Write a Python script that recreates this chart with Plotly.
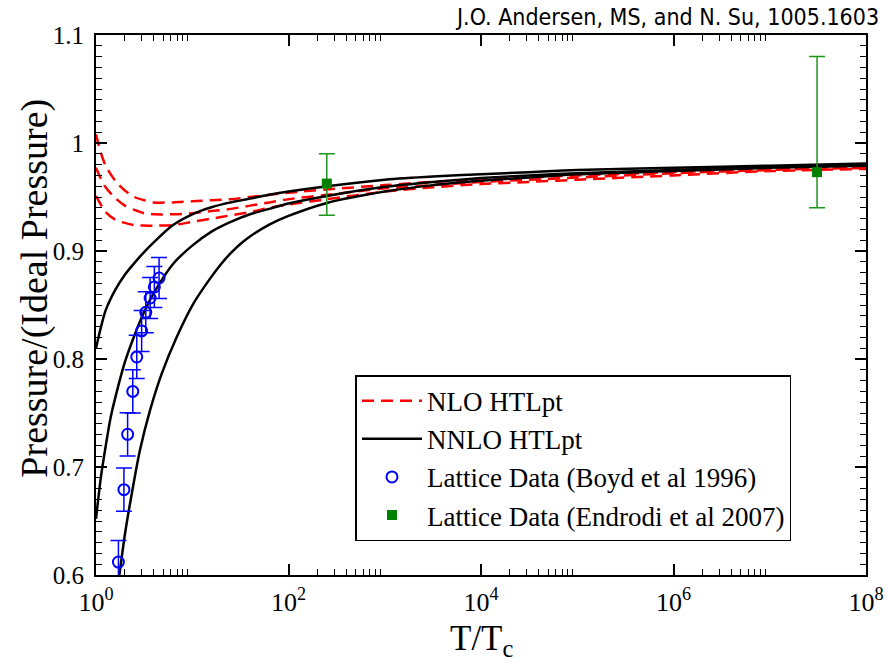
import plotly.graph_objects as go

# ---------------- data ----------------
# common T/Tc grid for the HTLpt bands
T_grid = [1.0, 1.122, 1.259, 1.585, 1.995, 2.512, 3.162, 3.981, 6.31, 10.0, 15.85,
          25.12, 39.81, 63.1, 100.0, 251.2, 1000.0, 3162.0, 1.0e4, 3.162e4, 1.0e5,
          1.0e6, 1.0e7, 1.0e8]

nlo_upper = [1.008, 0.991, 0.979, 0.965, 0.956, 0.950, 0.947, 0.945, 0.945, 0.946, 0.947,
             0.948, 0.950, 0.952, 0.954, 0.957, 0.961, 0.964, 0.966, 0.968, 0.970,
             0.973, 0.976, 0.978]
nlo_mid = [0.977, 0.967, 0.959, 0.949, 0.942, 0.938, 0.935, 0.934, 0.934, 0.935, 0.937,
           0.939, 0.942, 0.945, 0.948, 0.952, 0.958, 0.961, 0.964, 0.966, 0.968,
           0.972, 0.975, 0.977]
nlo_lower = [0.951, 0.943, 0.936, 0.929, 0.926, 0.924, 0.9235, 0.9235, 0.924, 0.927, 0.930,
             0.933, 0.936, 0.940, 0.943, 0.948, 0.955, 0.959, 0.962, 0.964, 0.966,
             0.970, 0.974, 0.976]

nnlo_upper = [0.810, 0.829, 0.845, 0.864, 0.878, 0.889, 0.899, 0.908, 0.924, 0.934, 0.9405,
              0.945, 0.9485, 0.952, 0.955, 0.960, 0.966, 0.969, 0.971, 0.973, 0.975,
              0.977, 0.979, 0.981]

T_nnlo_mid = [1.0, 1.122, 1.259, 1.413, 1.585, 1.995, 2.512, 3.162, 3.981, 6.31, 10.0,
              15.85, 25.12, 39.81, 63.1, 100.0, 251.2, 1000.0, 3162.0, 1.0e4, 3.162e4,
              1.0e5, 1.0e6, 1.0e7, 1.0e8]
nnlo_mid = [0.652, 0.690, 0.719, 0.745, 0.764, 0.797, 0.822, 0.8435, 0.861, 0.888, 0.905,
            0.918, 0.927, 0.934, 0.939, 0.944, 0.951, 0.9595, 0.964, 0.9675, 0.970,
            0.972, 0.975, 0.978, 0.980]

T_nnlo_low = [1.66, 1.75, 2.0, 2.35, 2.86, 3.64, 4.82, 6.9, 10.28, 15.31, 19.95, 25.12,
              31.62, 39.81, 63.1, 100.0, 251.2, 1000.0, 3162.0, 1.0e4, 3.162e4, 1.0e5,
              1.0e6, 1.0e7, 1.0e8]
nnlo_lower = [0.585, 0.600, 0.638, 0.675, 0.7155, 0.7525, 0.7865, 0.8204, 0.8513, 0.8744,
              0.888, 0.898, 0.9065, 0.9135, 0.9245, 0.9325, 0.9445, 0.955, 0.961, 0.965,
              0.968, 0.971, 0.974, 0.977, 0.979]

# Lattice data, Boyd et al 1996
boyd_T = [1.71, 1.95, 2.13, 2.41, 2.65, 2.98, 3.29, 3.65, 4.04, 4.52]
boyd_P = [0.612, 0.679, 0.7303, 0.770, 0.8019, 0.826, 0.8432, 0.8565, 0.8667, 0.875]
boyd_err = [0.020, 0.020, 0.020, 0.020, 0.020, 0.019, 0.019, 0.019, 0.019, 0.019]

# Lattice data, Endrodi et al 2007
endrodi_T = [250.0, 3.1e7]
endrodi_P = [0.9624, 0.973]
endrodi_err_plus = [0.0276, 0.107]
endrodi_err_minus = [0.0294, 0.033]

x_tickvals = [1, 1e2, 1e4, 1e6, 1e8]
x_ticktext = ["10<sup>0</sup>", "10<sup>2</sup>", "10<sup>4</sup>", "10<sup>6</sup>", "10<sup>8</sup>"]
x_minor = [m * d for d in (1, 1e2, 1e4, 1e6) for m in (2, 3, 4, 5, 6, 7, 8, 9)]
y_tickvals = [0.6, 0.7, 0.8, 0.9, 1.0, 1.1]
y_ticktext = ["0.6", "0.7", "0.8", "0.9", "1", "1.1"]

# ---------------- figure ----------------
SERIF = "Liberation Serif, Times New Roman, serif"
fig = go.Figure()

red = "rgb(255,0,0)"
for i, ys in enumerate([nlo_upper, nlo_mid, nlo_lower]):
    fig.add_trace(go.Scatter(
        x=T_grid, y=ys, mode="lines", name="NLO HTLpt", legendgroup="nlo",
        showlegend=(i == 0),
        line=dict(color=red, width=2.5, dash="12px,7px", shape="spline", smoothing=0.8)))

for i, (xs, ys) in enumerate([(T_grid, nnlo_upper), (T_nnlo_mid, nnlo_mid), (T_nnlo_low, nnlo_lower)]):
    fig.add_trace(go.Scatter(
        x=xs, y=ys, mode="lines", name="NNLO HTLpt", legendgroup="nnlo",
        showlegend=(i == 0),
        line=dict(color="black", width=2.5, shape="spline", smoothing=0.8)))

fig.add_trace(go.Scatter(
    x=boyd_T, y=boyd_P, mode="markers", name="Lattice Data (Boyd et al 1996)",
    marker=dict(symbol="circle-open", size=11, color="rgb(0,0,255)", line=dict(width=2)),
    error_y=dict(type="data", array=boyd_err, color="rgb(0,0,255)", thickness=1.5, width=8)))

fig.add_trace(go.Scatter(
    x=endrodi_T, y=endrodi_P, mode="markers", name="Lattice Data (Endrodi et al 2007)",
    marker=dict(symbol="square", size=10, color="rgb(0,128,0)"),
    error_y=dict(type="data", symmetric=False, array=endrodi_err_plus,
                 arrayminus=endrodi_err_minus, color="rgb(30,150,30)", thickness=1.5, width=8)))

fig.add_annotation(
    text="J.O. Andersen, MS, and N. Su, 1005.1603", xref="paper", yref="paper",
    x=1.019, y=1.033, xanchor="right", yanchor="middle", showarrow=False,
    font=dict(family="Liberation Sans Narrow, DejaVu Sans Condensed, sans-serif", size=23, color="black"))

# axis titles placed as annotations for exact positioning
fig.add_annotation(
    text="Pressure/(Ideal Pressure)", xref="paper", yref="paper",
    x=-0.0793, y=0.532, xanchor="center", yanchor="middle", textangle=-90, showarrow=False,
    font=dict(family=SERIF, size=38, color="black"))
fig.add_annotation(
    text="T/T<sub>c</sub>", xref="paper", yref="paper",
    x=0.5, y=-0.163, xanchor="center", yanchor="bottom", showarrow=False, borderpad=0,
    font=dict(family=SERIF, size=35, color="black"))

axis_common = dict(showline=True, linecolor="black", linewidth=2, mirror="ticks",
                   ticks="inside", ticklen=11, tickwidth=1.5, tickcolor="black",
                   showgrid=False, zeroline=False, automargin=False)

fig.update_xaxes(
    type="log", range=[0, 8], tickmode="array", tickvals=x_tickvals, ticktext=x_ticktext,
    tickfont=dict(family=SERIF, size=26, color="black"), ticklabelstandoff=3,
    minor=dict(tickmode="array", tickvals=x_minor, ticks="inside", ticklen=6,
               tickwidth=1.2, tickcolor="black", showgrid=False),
    **axis_common)

fig.update_yaxes(
    range=[0.6, 1.1], tickmode="array", tickvals=y_tickvals, ticktext=y_ticktext,
    tickfont=dict(family=SERIF, size=25, color="black"), ticklabelstandoff=5,
    minor=dict(dtick=0.01, tick0=0.6, ticks="inside", ticklen=6, tickwidth=1.2,
               tickcolor="black", showgrid=False),
    **axis_common)

fig.update_layout(
    width=887, height=663,
    margin=dict(l=96, r=21, t=35, b=88),
    paper_bgcolor="white", plot_bgcolor="white",
    legend=dict(x=0.337, y=0.37, xanchor="left", yanchor="top",
                bgcolor="white", bordercolor="black", borderwidth=1.5,
                font=dict(family=SERIF, size=27, color="black"),
                tracegroupgap=0, itemwidth=60),
)

fig.write_html("out.html")
